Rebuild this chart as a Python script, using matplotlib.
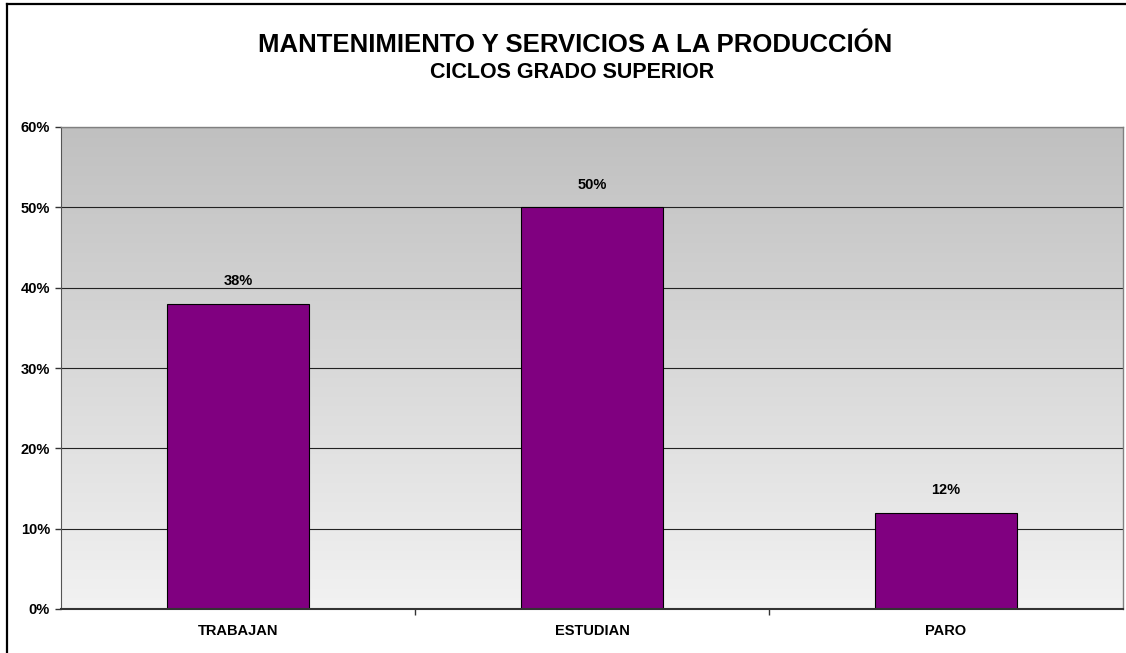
import numpy as np
import matplotlib
matplotlib.use('Agg')
import matplotlib.pyplot as plt
from matplotlib.lines import Line2D
from matplotlib.ticker import PercentFormatter

# datos
categorias = ['TRABAJAN', 'ESTUDIAN', 'PARO']
valores = [0.38, 0.50, 0.12]
etiquetas = ['38%', '50%', '12%']
ticks_y = [0, 0.1, 0.2, 0.3, 0.4, 0.5, 0.6]

plt.rcParams['font.family'] = ['Liberation Sans', 'DejaVu Sans']
plt.rcParams['font.weight'] = 'bold'

fig = plt.figure(figsize=(11.26, 6.53), dpi=100)
ax = fig.add_axes([61/1126, 1-609/653, (1123-61)/1126, (609-127)/653])

# fondo degradado
grad = np.linspace(0, 1, 256).reshape(-1, 1)
ax.imshow(grad, cmap=matplotlib.colors.LinearSegmentedColormap.from_list('g', ['#f2f2f2', '#c0c0c0']),
          aspect='auto', extent=[-0.5, 2.5, 0, 0.6], origin='lower', zorder=-1)

x = np.arange(len(categorias))
barras = ax.bar(x, valores, width=0.4, color='#800080', edgecolor='black', linewidth=0.8, zorder=2)

for xi, v, t in zip(x, valores, etiquetas):
    ax.annotate(t, (xi, v), xytext=(0, 11), textcoords='offset points',
                ha='center', va='bottom', fontsize=10.5, fontweight='bold')

ax.set_xlim(-0.5, 2.5)
ax.set_ylim(0, 0.6)
ax.set_yticks(ticks_y)
ax.yaxis.set_major_formatter(PercentFormatter(1.0, decimals=0))
ax.set_xticks(x)
ax.set_xticklabels(categorias)
ax.set_xticks([0.5, 1.5], minor=True)
ax.tick_params(axis='x', which='major', length=0, pad=11, labelsize=10.5)
ax.tick_params(axis='x', which='minor', length=4, width=1, color='#333333', direction='out')
ax.tick_params(axis='y', length=4, width=1, color='#333333', direction='out', labelsize=10.5, pad=4)

ax.grid(axis='y', color='#222222', linewidth=0.8)
ax.set_axisbelow(True)

for s in ['top', 'right']:
    ax.spines[s].set_color('#808080')
    ax.spines[s].set_linewidth(1)
ax.spines['left'].set_color('#555555')
ax.spines['bottom'].set_color('#333333')
ax.spines['bottom'].set_linewidth(1.5)

fig.text(575/1126, 1-45/653, 'MANTENIMIENTO Y SERVICIOS A LA PRODUCCIÓN',
         ha='center', va='center', fontsize=18.5, fontweight='bold')
fig.text(572/1126, 1-73/653, 'CICLOS GRADO SUPERIOR',
         ha='center', va='center', fontsize=15.5, fontweight='bold')

# borde exterior
fig.add_artist(Line2D([6.5/1126, 6.5/1126], [0, 1-3.5/653], color='black', linewidth=1.6))
fig.add_artist(Line2D([6.5/1126, 1], [1-3.5/653, 1-3.5/653], color='black', linewidth=1.6))

plt.savefig('out.png', dpi=100)
